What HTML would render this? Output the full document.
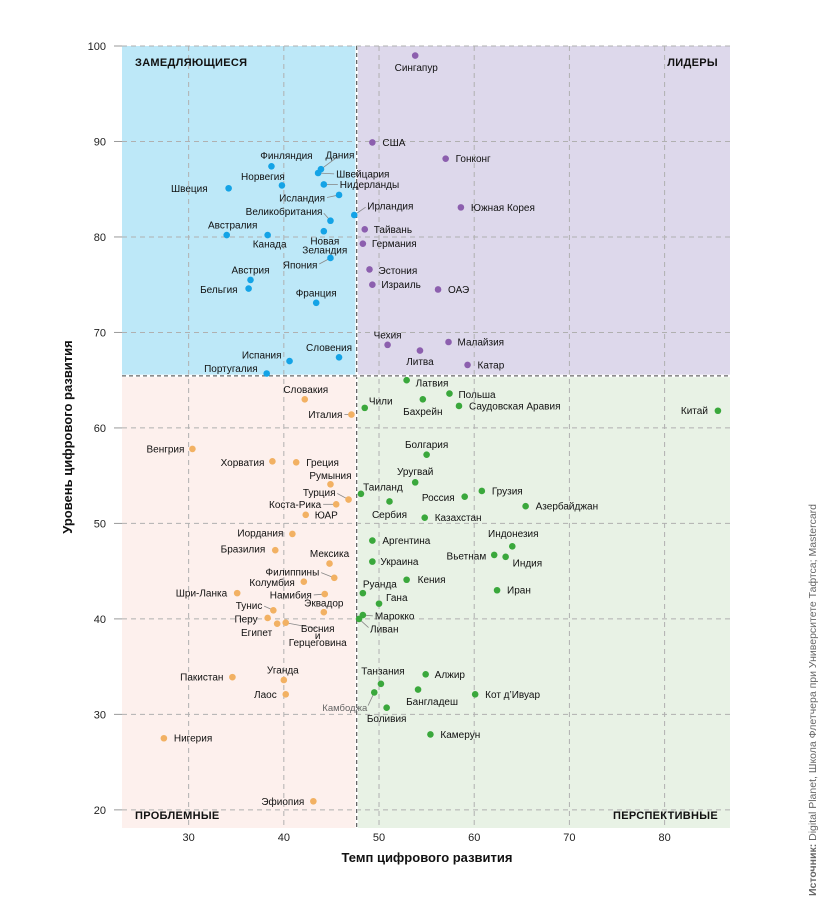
<!DOCTYPE html>
<html><head><meta charset="utf-8">
<style>
html,body{margin:0;padding:0;background:#fff;}
svg{display:block;font-family:"Liberation Sans","DejaVu Sans",sans-serif;}
</style></head>
<body>
<svg id="chart" width="825" height="900" viewBox="0 0 825 900"></svg>
<script>
const countries=["Финляндия","Дания","Швейцария","Нидерланды","Норвегия","Швеция","Исландия","Ирландия","Великобритания","Австралия","Канада","Новая|Зеландия","Япония","Австрия","Бельгия","Франция","Словения","Испания","Португалия",
"Сингапур","США","Гонконг","Южная Корея","Тайвань","Германия","Эстония","Израиль","ОАЭ","Чехия","Литва","Малайзия","Катар",
"Латвия","Польша","Бахрейн","Саудовская Аравия","Чили","Китай","Болгария","Уругвай","Таиланд","Сербия","Россия","Грузия","Азербайджан","Казахстан","Аргентина","Индонезия","Вьетнам","Индия","Украина","Кения","Иран","Руанда","Гана","Марокко","Ливан","Танзания","Алжир","Бангладеш","Кот д’Ивуар","Камбоджа","Боливия","Камерун",
"Словакия","Италия","Венгрия","Хорватия","Греция","Румыния","Турция","Коста-Рика","ЮАР","Иордания","Бразилия","Мексика","Филиппины","Колумбия","Шри-Ланка","Намибия","Эквадор","Тунис","Перу","Египет","Босния|и|Герцеговина","Уганда","Пакистан","Лаос","Нигерия","Эфиопия"];
const momentum=[38.7,43.9,43.6,44.2,39.8,34.2,45.8,47.4,44.9,34.0,38.3,44.2,44.9,36.5,36.3,43.4,45.8,40.6,38.2,
53.8,49.3,57.0,58.6,48.5,48.3,49.0,49.3,56.2,50.9,54.3,57.3,59.3,
52.9,57.4,54.6,58.4,48.5,85.6,55.0,53.8,48.1,51.1,59.0,60.8,65.4,54.8,49.3,64.0,62.1,63.3,49.3,52.9,62.4,48.3,50.0,48.3,47.9,50.2,54.9,54.1,60.1,49.5,50.8,55.4,
42.2,47.1,30.4,38.8,41.3,44.9,46.8,45.5,42.3,40.9,39.1,44.8,45.3,42.1,35.1,44.3,44.2,38.9,38.3,39.3,40.2,40.0,34.6,40.2,27.4,43.1];
const stateScore=[87.4,87.1,86.7,85.5,85.4,85.1,84.4,82.3,81.7,80.2,80.2,80.6,77.8,75.5,74.6,73.1,67.4,67.0,65.7,
99.0,89.9,88.2,83.1,80.8,79.3,76.6,75.0,74.5,68.7,68.1,69.0,66.6,
65.0,63.6,63.0,62.3,62.1,61.8,57.2,54.3,53.1,52.3,52.8,53.4,51.8,50.6,48.2,47.6,46.7,46.5,46.0,44.1,43.0,42.7,41.6,40.4,40.0,33.2,34.2,32.6,32.1,32.3,30.7,27.9,
63.0,61.4,57.8,56.5,56.4,54.1,52.5,52.0,50.9,48.9,47.2,45.8,44.3,43.9,42.7,42.6,40.7,40.9,40.1,39.5,39.6,33.6,33.9,32.1,27.5,20.9];
const xTicks=[30,40,50,60,70,80];
const yTicks=[20,30,40,50,60,70,80,90,100];
const xSplit=47.65, ySplit=65.45;
// label layout (pixel offsets relative to dot, not data)
const labelLayout=[[15,-11,'m'],[19,-14,'m',1],[18,1,'s',1],[16,0,'s',1],[-19,-9,'m'],[-21,0,'e'],[-14,3,'e',1],[13,-9,'s',1],[-8,-9,'e',1],[6,-10,'m'],[2,9,'m'],[1,10,'m'],[-13,7,'e',1],[0,-10,'m'],[-11,1,'e'],[0,-10,'m'],[-10,-10,'m'],[-8,-6,'e'],[-9,-5,'e'],
[1,12,'m'],[10,0,'s'],[10,0,'s'],[10,0,'s'],[9,0,'s'],[9,0,'s'],[9,1,'s'],[9,0,'s'],[10,0,'s'],[0,-10,'m'],[0,11,'m'],[9,0,'s'],[10,0,'s'],
[9,3,'s'],[9,1,'s'],[0,12,'m'],[10,0,'s'],[16,-7,'m'],[-10,0,'e'],[0,-10,'m'],[0,-11,'m'],[22,-7,'m'],[0,13,'m'],[-10,1,'e'],[10,0,'s'],[10,0,'s'],[10,0,'s'],[10,0,'s'],[1,-13,'m'],[-8,1,'e'],[7,6,'s'],[8,0,'s'],[11,0,'s'],[10,0,'s'],[17,-9,'m'],[7,-6,'s'],[12,1,'s',1],[11,10,'s',1],[2,-13,'m'],[9,0,'s'],[14,12,'m'],[10,0,'s'],[-7,15,'e',1],[0,11,'m'],[10,0,'s'],
[1,-10,'m'],[-9,0,'e',1],[-8,0,'e'],[-8,1,'e'],[10,0,'s'],[0,-9,'m'],[-13,-7,'e',1],[-15,0,'e',1],[9,0,'s'],[-9,-1,'e'],[-10,-1,'e'],[0,-10,'m'],[-15,-6,'e',1],[-9,1,'e'],[-10,0,'e'],[-13,1,'e',1],[0,-9,'m'],[-11,-5,'e',1],[-10,1,'e'],[-5,9,'e'],[32,6,'m',1],[-1,-10,'m'],[-9,0,'e'],[-9,0,'e'],[10,0,'s'],[-9,0,'e']];
const NS='http://www.w3.org/2000/svg';
const svg=document.getElementById('chart');
const L=122,R=730,T=46,B=828;
const X0=23.0,X1=86.87,Y0=18.1,Y1=100.0;
const sx=v=>L+(v-X0)/(X1-X0)*(R-L);
const sy=v=>B-(v-Y0)/(Y1-Y0)*(B-T);
function mk(tag,attrs,parent){const e=document.createElementNS(NS,tag);for(const k in attrs)e.setAttribute(k,attrs[k]);(parent||svg).appendChild(e);return e;}
const xs=sx(xSplit), ys=sy(ySplit);
let q;
q=mk('rect',{x:L,y:T,width:xs-L,height:ys-T,fill:'#bde8f8'});

q=mk('rect',{x:xs,y:T,width:R-xs,height:ys-T,fill:'#ddd8eb'});

q=mk('rect',{x:L,y:ys,width:xs-L,height:B-ys,fill:'#fdf0ed'});

q=mk('rect',{x:xs,y:ys,width:R-xs,height:B-ys,fill:'#e8f2e5'});

xTicks.forEach(v=>{
 const g=mk('line',{x1:sx(v),x2:sx(v),y1:T,y2:B,stroke:'#b0b0b0','stroke-dasharray':'5,4','stroke-width':1});
 
 const t=mk('text',{x:sx(v),y:841,'text-anchor':'middle','font-size':11,fill:'#222'});t.textContent=v;
 
});
yTicks.forEach(v=>{
 const g=mk('line',{x1:L,x2:R,y1:sy(v),y2:sy(v),stroke:'#b0b0b0','stroke-dasharray':'5,4','stroke-width':1});
 
 const t=mk('line',{x1:114,x2:122,y1:sy(v),y2:sy(v),stroke:'#999'});
 
 const tl=mk('text',{x:106,y:sy(v)+4,'text-anchor':'end','font-size':11,fill:'#222'});tl.textContent=v;
 
});
let d;
d=mk('line',{x1:xs,x2:xs,y1:T,y2:B,stroke:'#fff','stroke-width':2.5});

d=mk('line',{x1:xs,x2:xs,y1:T,y2:B,stroke:'#666','stroke-dasharray':'4,3','stroke-width':1.3});

d=mk('line',{x1:L,x2:R,y1:ys,y2:ys,stroke:'#fff','stroke-width':2.5});

d=mk('line',{x1:L,x2:R,y1:ys,y2:ys,stroke:'#666','stroke-dasharray':'4,3','stroke-width':1.3});

function color(i){const x=momentum[i],y=stateScore[i];
 if(y>=ySplit) return x<xSplit?'#14a3e6':'#8c5fae';
 return x<xSplit?'#f2b163':'#3aa83c';}
countries.forEach((c,i)=>{
 const cx=sx(momentum[i]),cy=sy(stateScore[i]);
 const lay=labelLayout[i]||[8,0,'s'];
 const col=color(i);
 if(lay[3]){
  const lx=cx+lay[0],ly=cy+lay[1];
  const dx=lx-cx,dy=ly-cy,len=Math.hypot(dx,dy)||1;
  const ln=mk('line',{x1:cx,y1:cy,x2:lx-dx/len*2,y2:ly-dy/len*2,stroke:'#888','stroke-width':0.8});
  
 }
 const p=mk('circle',{cx:cx,cy:cy,r:3.3,fill:col});
 
 const lines=c.split('|');
 const anchor=lay[2]==='m'?'middle':(lay[2]==='e'?'end':'start');
 const t=mk('text',{x:cx+lay[0],y:cy+lay[1]+3.5,'text-anchor':anchor,'font-size':c==='Камбоджа'?9.5:10,fill:c==='Камбоджа'?'#666':'#111'});
 
 const lh=c.startsWith('Босния')?7:9;
 lines.forEach((s,k)=>{const ts=mk('tspan',{x:cx+lay[0],dy:k?lh:0},t);ts.textContent=s;});
});
function txt(s,attrs,name){const t=mk('text',attrs);t.textContent=s;return t;}
txt('ЗАМЕДЛЯЮЩИЕСЯ',{x:135,y:66,'font-size':11,'font-weight':'bold',fill:'#111','letter-spacing':0.3},'quadrant-label-slowing');
txt('ЛИДЕРЫ',{x:718,y:66,'text-anchor':'end','font-size':11,'font-weight':'bold',fill:'#111','letter-spacing':0.3},'quadrant-label-leaders');
txt('ПРОБЛЕМНЫЕ',{x:135,y:819,'font-size':11,'font-weight':'bold',fill:'#111','letter-spacing':0.3},'quadrant-label-problem');
txt('ПЕРСПЕКТИВНЫЕ',{x:718,y:819,'text-anchor':'end','font-size':11,'font-weight':'bold',fill:'#111','letter-spacing':0.3},'quadrant-label-promising');
txt('Темп цифрового развития',{x:427,y:862,'text-anchor':'middle','font-size':13,'font-weight':'bold',fill:'#111'},'x-axis-title');
txt('Уровень цифрового развития',{x:0,y:0,'text-anchor':'middle','font-size':13,'font-weight':'bold',fill:'#111',transform:'translate(72,437) rotate(-90)'},'y-axis-title');
const src=mk('text',{x:0,y:0,'text-anchor':'middle','font-size':10.5,fill:'#666',transform:'translate(816,700) rotate(-90)'});

const b=mk('tspan',{'font-weight':'bold'},src);b.textContent='Источник: ';
const r=mk('tspan',{},src);r.textContent='Digital Planet, Школа Флетчера при Университете Тафтса; Mastercard';
</script>
</body></html>
